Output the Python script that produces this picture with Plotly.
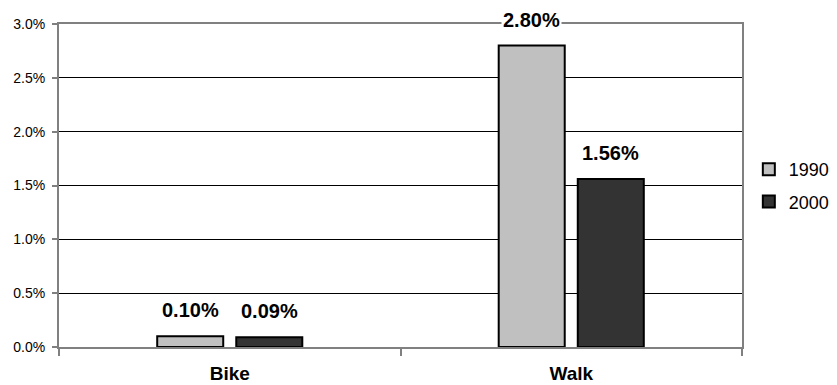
import plotly.graph_objects as go

# Commute mode share by year
modes = ["Bike", "Walk"]
share_1990 = [0.10, 2.80]
share_2000 = [0.09, 1.56]
years = ["1990", "2000"]
y_ticks = [0.0, 0.5, 1.0, 1.5, 2.0, 2.5, 3.0]
y_tick_text = ["0.0%", "0.5%", "1.0%", "1.5%", "2.0%", "2.5%", "3.0%"]

W, H = 837, 385
M_L, M_R, M_T, M_B = 59, 95, 24, 38
BARGAP, GROUPGAP = 0.537, 0.165
FONT = "Liberation Sans, Arial, sans-serif"

fig = go.Figure()
series = [(years[0], share_1990, "#C0C0C0"), (years[1], share_2000, "#333333")]
for name, vals, color in series:
    fig.add_trace(go.Bar(
        x=modes, y=vals, name=name, legendgroup=name,
        marker=dict(color=color, line=dict(color="#000000", width=2)),
        hoverinfo="skip",
    ))

# value labels centred above each bar of the group
plot_w = W - M_L - M_R
slot = plot_w / len(modes) * (1 - BARGAP) / len(series)
for i, (name, vals, color) in enumerate(series):
    shift = (i - (len(series) - 1) / 2) * slot
    for m, v in zip(modes, vals):
        fig.add_annotation(
            x=m, y=v, xref="x", yref="y", xshift=shift, yshift=13,
            text=f"<b>{v:.2f}%</b>", showarrow=False, yanchor="bottom",
            font=dict(family=FONT, size=20, color="#000000"),
            bgcolor="#FFFFFF", borderpad=1,
        )

fig.update_layout(
    width=W, height=H,
    margin=dict(l=M_L, r=M_R, t=M_T, b=M_B, autoexpand=False),
    paper_bgcolor="#FFFFFF", plot_bgcolor="#FFFFFF",
    barmode="group", bargap=BARGAP, bargroupgap=GROUPGAP,
    font=dict(family=FONT, color="#000000"),
    showlegend=True,
    legend=dict(
        x=1.01, y=0.5, xanchor="left", yanchor="middle",
        font=dict(family=FONT, size=18, color="#000000"),
        tracegroupgap=6, bgcolor="rgba(0,0,0,0)",
    ),
    xaxis=dict(
        type="category", showgrid=False, zeroline=False,
        showline=True, linecolor="#808080", linewidth=2, mirror=True,
        ticks="outside", tickson="boundaries", ticklen=7,
        tickcolor="#808080", tickwidth=2,
        tickfont=dict(family=FONT, size=19, color="#000000", weight="bold"),
        ticklabelstandoff=8,
    ),
    yaxis=dict(
        range=[0, 3.0], tickvals=y_ticks, ticktext=y_tick_text,
        showgrid=True, gridcolor="#000000", gridwidth=1, zeroline=False,
        showline=True, linecolor="#808080", linewidth=2, mirror=True,
        ticks="outside", ticklen=5, tickcolor="#808080", tickwidth=2,
        tickfont=dict(family=FONT, size=14, color="#000000"),
        ticklabelstandoff=4,
    ),
)

fig.write_html("out.html")
